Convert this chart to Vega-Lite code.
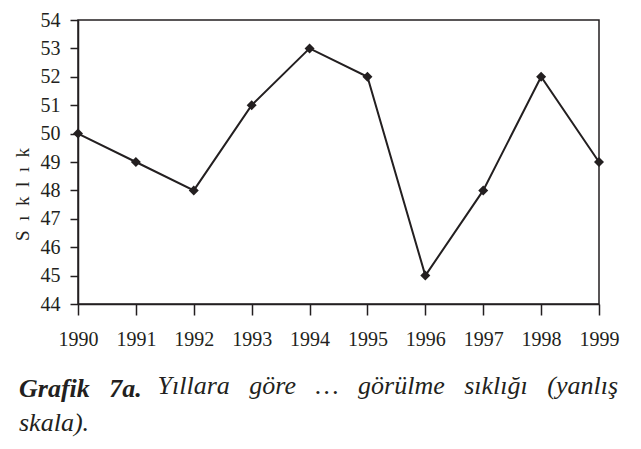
{
  "$schema": "https://vega.github.io/schema/vega-lite/v6.json",
  "autosize": {"type": "none"},
  "width": 521,
  "height": 284,
  "padding": {"left": 78, "top": 20, "right": 42, "bottom": 145},
  "background": "white",
  "data": {"values": [
    {"year": 1990, "value": 50},
    {"year": 1991, "value": 49},
    {"year": 1992, "value": 48},
    {"year": 1993, "value": 51},
    {"year": 1994, "value": 53},
    {"year": 1995, "value": 52},
    {"year": 1996, "value": 45},
    {"year": 1997, "value": 48},
    {"year": 1998, "value": 52},
    {"year": 1999, "value": 49}
  ]},
  "title": {
    "text": "Grafik\u00a0\u00a0\u00a07a.",
    "subtitle": "skala).",
    "orient": "top",
    "anchor": "start",
    "frame": "group",
    "dx": -59,
    "dy": 426,
    "offset": 0,
    "font": "Times New Roman",
    "fontSize": 26,
    "fontStyle": "italic",
    "fontWeight": "bold",
    "color": "#231f20",
    "subtitleFont": "Times New Roman",
    "subtitleFontSize": 26,
    "subtitleFontStyle": "italic",
    "subtitleFontWeight": "normal",
    "subtitleColor": "#231f20",
    "subtitlePadding": 8
  },
  "config": {
    "view": {"stroke": "#231f20", "strokeWidth": 1.5},
    "axis": {
      "domainColor": "#231f20",
      "domainWidth": 1.5,
      "tickColor": "#231f20",
      "tickWidth": 1.5,
      "grid": false,
      "labelFont": "Times New Roman",
      "labelFontSize": 20,
      "labelColor": "#231f20",
      "titleFont": "Times New Roman",
      "titleColor": "#231f20"
    }
  },
  "encoding": {
    "x": {
      "field": "year",
      "type": "quantitative",
      "scale": {"domain": [1990, 1999], "nice": false, "zero": false},
      "axis": {
        "values": [1990, 1991, 1992, 1993, 1994, 1995, 1996, 1997, 1998, 1999],
        "format": "d",
        "tickSize": 11,
        "labelPadding": 14,
        "labelFlush": false,
        "labelOverlap": false,
        "title": "Yıllara\u00a0\u00a0\u00a0göre\u00a0\u00a0\u00a0…\u00a0\u00a0\u00a0görülme\u00a0\u00a0\u00a0sıklığı\u00a0\u00a0\u00a0(yanlış",
        "titleX": 79,
        "titleY": 89,
        "titleAlign": "left",
        "titleAnchor": "start",
        "titleBaseline": "alphabetic",
        "titleFontSize": 26,
        "titleFontStyle": "italic",
        "titleFontWeight": "normal"
      }
    },
    "y": {
      "field": "value",
      "type": "quantitative",
      "scale": {"domain": [44, 54], "nice": false, "zero": false},
      "axis": {
        "values": [44, 45, 46, 47, 48, 49, 50, 51, 52, 53, 54],
        "tickSize": 8,
        "labelPadding": 10,
        "labelFlush": false,
        "labelOverlap": false,
        "title": "S\u00a0\u00a0ı\u00a0\u00a0k\u00a0\u00a0l\u00a0\u00a0ı\u00a0\u00a0k",
        "titleX": -56,
        "titleY": 174,
        "titleAngle": -90,
        "titleAlign": "center",
        "titleBaseline": "middle",
        "titleFontSize": 19,
        "titleFontWeight": "normal"
      }
    }
  },
  "layer": [
    {"mark": {"type": "line", "color": "#231f20", "strokeWidth": 2}},
    {"mark": {"type": "point", "shape": "diamond", "filled": true, "color": "#231f20", "size": 100, "opacity": 1}}
  ]
}
